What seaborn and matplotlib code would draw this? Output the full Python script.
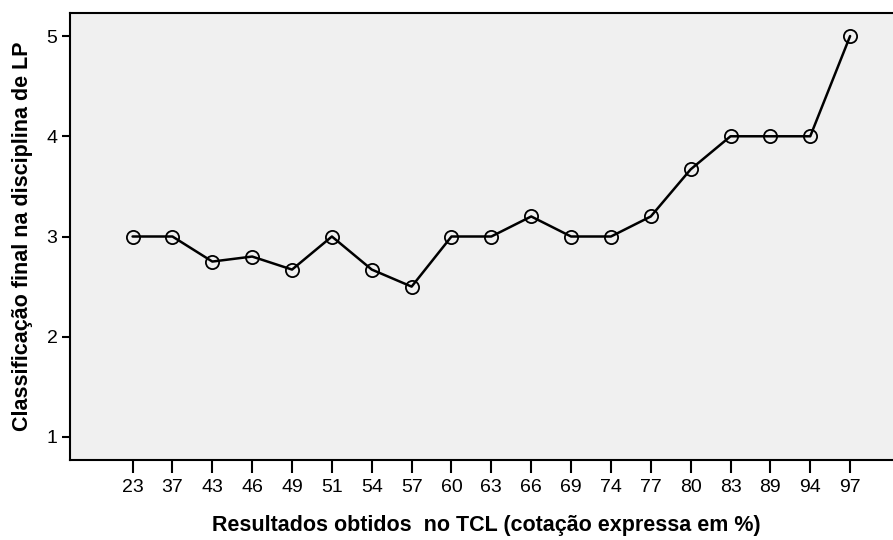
import matplotlib
matplotlib.use("Agg")
import matplotlib.pyplot as plt
import seaborn as sns
import pandas as pd

# dados
resultados = ["23", "37", "43", "46", "49", "51", "54", "57", "60", "63",
              "66", "69", "74", "77", "80", "83", "89", "94", "97"]
classificacao = [3.0, 3.0, 2.75, 2.8, 2.67, 3.0, 2.67, 2.5, 3.0, 3.0,
                 3.2, 3.0, 3.0, 3.2, 3.67, 4.0, 4.0, 4.0, 5.0]
yticks = [1, 2, 3, 4, 5]

veri = pd.DataFrame({"TCL": resultados, "LP": classificacao})

sns.set_style("ticks")
plt.rcParams["font.family"] = ["Liberation Sans", "DejaVu Sans"]
plt.rcParams["text.color"] = "black"
plt.rcParams["axes.labelcolor"] = "black"

fig = plt.figure(figsize=(8.93, 5.4), dpi=100)
ax = fig.add_axes([70 / 893, 1 - 460 / 540, 1 - 70 / 893 + 0.01, (460 - 13) / 540])
ax.set_facecolor("#f0f0f0")

sns.lineplot(data=veri, x="TCL", y="LP", ax=ax, color="black", linewidth=1.8,
             marker="o", markersize=9.5, markerfacecolor="none",
             markeredgecolor="black", markeredgewidth=1.3)

ax.set_xlim(-1.57, 19.3)
ax.set_ylim(0.77, 5.23)
ax.set_yticks(yticks)
ax.set_yticklabels([str(v) for v in yticks])

ax.tick_params(axis="x", direction="out", length=9.5, width=1.5, labelsize=14, pad=4, colors="black")
ax.tick_params(axis="y", direction="out", length=6, width=1.5, labelsize=14, pad=3, colors="black")

for lado in ["left", "bottom", "top"]:
    ax.spines[lado].set_visible(True)
    ax.spines[lado].set_linewidth(1.5)
    ax.spines[lado].set_color("black")
ax.spines["right"].set_visible(False)

ax.set_xlabel("Resultados obtidos  no TCL (cotação expressa em %)", fontsize=15.5,
              fontweight="bold", labelpad=14, color="black")
ax.set_ylabel("Classificação final na disciplina de LP", fontsize=15.5,
              fontweight="bold", labelpad=10, color="black")

fig.savefig("out.png", dpi=100)
